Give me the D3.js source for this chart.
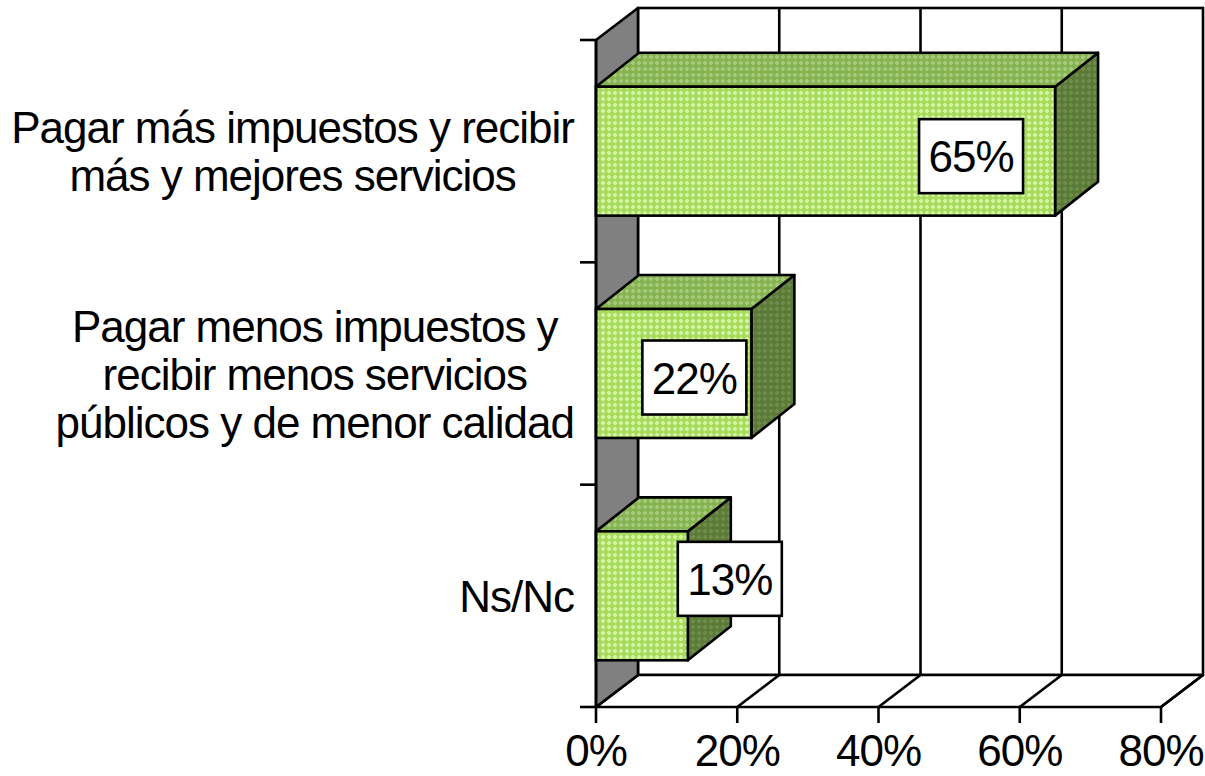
<!DOCTYPE html>
<html>
<head>
<meta charset="utf-8">
<script src="https://cdn.jsdelivr.net/npm/d3@7"></script>
<style>
  html, body { margin: 0; padding: 0; background: #fff; }
  svg { display: block; font-family: "Liberation Sans", Arial, sans-serif; }
</style>
</head>
<body>
<div id="chart"></div>
<script>
(function () {
    'use strict';

    // data
    var categories = [
        ["Pagar más impuestos y recibir", "más y mejores servicios"],
        ["Pagar menos impuestos y", "recibir menos servicios", "públicos y de menor calidad"],
        ["Ns/Nc"]
    ];
    var values = [65, 22, 13];
    var valueLabels = ["65%", "22%", "13%"];
    var ticks = [0, 20, 40, 60, 80];
    var tickLabels = ["0%", "20%", "40%", "60%", "80%"];

    // layout
    var width = 1205, height = 776;
    var top = 40, bottom = 707;
    var depthX = 42, depthY = -32;      // wall depth
    var barDX = 43, barDY = -34;        // bar depth
    var fontSize = 44, tracking = -1;
    var lineGap = 48;
    // where the value boxes sit, relative to bar end / band centre
    var boxShift = [[-84, 5], [-57, 4], [42, -17]];
    var boxW = 104, boxH = 74;

    var x = d3.scaleLinear().domain([0, 80]).range([596, 1161]);
    var xBack = d3.scaleLinear().domain([0, 80]).range([596 + depthX, 1161 + depthX]);
    var y = d3.scaleBand()
        .domain(d3.range(categories.length))
        .range([top, bottom])
        .paddingInner(0.42)
        .paddingOuter(0.21);
    var step = y.step();

    var svg = d3.select("#chart").append("svg")
        .attr("width", width)
        .attr("height", height);

    // fill patterns for the bar faces
    var defs = svg.append("defs");
    var makePattern = function (id, base, dot) {
        var p = defs.append("pattern")
            .attr("id", id)
            .attr("patternUnits", "userSpaceOnUse")
            .attr("width", 6)
            .attr("height", 6);
        p.append("rect").attr("width", 6).attr("height", 6).attr("fill", base);
        p.append("rect").attr("x", 2).attr("y", 1).attr("width", 2).attr("height", 4).attr("fill", dot);
        p.append("rect").attr("x", 1).attr("y", 2).attr("width", 4).attr("height", 2).attr("fill", dot);
    };
    makePattern("pat-front", "#a9dc5e", "#d3f6a3");
    makePattern("pat-top", "#86b450", "#a6c97e");
    makePattern("pat-side", "#5b7b37", "#6f8c4e");

    var pts = function (a) { return a.map(function (p) { return p.join(","); }).join(" "); };
    var stroke = "#000", sw = 2.6;

    // back wall
    svg.append("rect")
        .attr("x", xBack(0)).attr("y", top + depthY)
        .attr("width", xBack(80) - xBack(0))
        .attr("height", bottom - top)
        .attr("fill", "#fff")
        .attr("stroke", stroke).attr("stroke-width", sw);

    // vertical gridlines on back wall
    svg.selectAll(".grid")
        .data(ticks.slice(1, -1))
        .enter().append("line")
        .attr("class", "grid")
        .attr("x1", function (d) { return xBack(d); })
        .attr("x2", function (d) { return xBack(d); })
        .attr("y1", top + depthY)
        .attr("y2", bottom + depthY)
        .attr("stroke", stroke).attr("stroke-width", sw);

    // floor
    svg.append("polygon")
        .attr("points", pts([[x(0), bottom], [xBack(0), bottom + depthY],
            [xBack(80), bottom + depthY], [x(80), bottom]]))
        .attr("fill", "#fff")
        .attr("stroke", stroke).attr("stroke-width", sw)
        .attr("stroke-linejoin", "round");
    svg.selectAll(".floorline")
        .data(ticks)
        .enter().append("line")
        .attr("class", "floorline")
        .attr("x1", function (d) { return x(d); })
        .attr("y1", bottom)
        .attr("x2", function (d) { return xBack(d); })
        .attr("y2", bottom + depthY)
        .attr("stroke", stroke).attr("stroke-width", sw);

    // left side wall
    svg.append("polygon")
        .attr("points", pts([[x(0), top], [xBack(0), top + depthY],
            [xBack(0), bottom + depthY], [x(0), bottom]]))
        .attr("fill", "#808080")
        .attr("stroke", stroke).attr("stroke-width", sw)
        .attr("stroke-linejoin", "round");

    // x axis ticks and labels
    svg.selectAll(".xtick")
        .data(ticks)
        .enter().append("line")
        .attr("class", "xtick")
        .attr("x1", function (d) { return x(d); })
        .attr("x2", function (d) { return x(d); })
        .attr("y1", bottom)
        .attr("y2", bottom + 16)
        .attr("stroke", stroke).attr("stroke-width", sw);
    svg.selectAll(".xlabel")
        .data(ticks)
        .enter().append("text")
        .attr("class", "xlabel")
        .attr("x", function (d) { return x(d); })
        .attr("y", 766)
        .attr("text-anchor", "middle")
        .attr("font-size", fontSize)
        .attr("letter-spacing", tracking)
        .text(function (d, i) { return tickLabels[i]; });

    // y axis ticks (category dividers)
    svg.selectAll(".ytick")
        .data(d3.range(categories.length + 1))
        .enter().append("line")
        .attr("class", "ytick")
        .attr("x1", x(0) - 16)
        .attr("x2", x(0))
        .attr("y1", function (i) { return top + i * step; })
        .attr("y2", function (i) { return top + i * step; })
        .attr("stroke", stroke).attr("stroke-width", sw);

    // bars
    var bars = svg.selectAll(".bar")
        .data(values)
        .enter().append("g")
        .attr("class", "bar");
    bars.each(function (v, i) {
        var g = d3.select(this);
        var x0 = x(0), x1 = x(v);
        var y0 = y(i), y1 = y(i) + y.bandwidth();
        g.append("polygon")
            .attr("points", pts([[x1, y0], [x1 + barDX, y0 + barDY], [x1 + barDX, y1 + barDY], [x1, y1]]))
            .attr("fill", "url(#pat-side)")
            .attr("stroke", stroke).attr("stroke-width", sw).attr("stroke-linejoin", "round");
        g.append("polygon")
            .attr("points", pts([[x0, y0], [x0 + barDX, y0 + barDY], [x1 + barDX, y0 + barDY], [x1, y0]]))
            .attr("fill", "url(#pat-top)")
            .attr("stroke", stroke).attr("stroke-width", sw).attr("stroke-linejoin", "round");
        g.append("rect")
            .attr("x", x0).attr("y", y0)
            .attr("width", x1 - x0).attr("height", y1 - y0)
            .attr("fill", "url(#pat-front)")
            .attr("stroke", stroke).attr("stroke-width", sw);
    });

    // front edge of the value axis, drawn over bars
    svg.append("line")
        .attr("x1", x(0)).attr("x2", x(0))
        .attr("y1", top).attr("y2", bottom)
        .attr("stroke", stroke).attr("stroke-width", sw);

    // value boxes
    bars.each(function (v, i) {
        var g = d3.select(this);
        var cx = x(v) + boxShift[i][0];
        var cy = y(i) + y.bandwidth() / 2 + boxShift[i][1];
        g.append("rect")
            .attr("x", cx - boxW / 2).attr("y", cy - boxH / 2)
            .attr("width", boxW).attr("height", boxH)
            .attr("fill", "#fff")
            .attr("stroke", stroke).attr("stroke-width", sw);
        g.append("text")
            .attr("x", cx)
            .attr("y", cy + 16)
            .attr("text-anchor", "middle")
            .attr("font-size", fontSize)
            .attr("letter-spacing", tracking)
            .text(valueLabels[i]);
    });

    // category labels: lines centred in a block whose right edge sits at 574
    categories.forEach(function (lines, i) {
        var cy = y(i) + y.bandwidth() / 2;
        var g = svg.append("g").attr("class", "cat");
        var texts = lines.map(function (line, j) {
            return g.append("text")
                .attr("y", cy + (j - (lines.length - 1) / 2) * lineGap + 16)
                .attr("font-size", fontSize)
                .attr("letter-spacing", tracking)
                .attr("text-anchor", "middle")
                .text(line);
        });
        var w = d3.max(texts, function (t) { return t.node().getComputedTextLength(); });
        texts.forEach(function (t) { t.attr("x", 574 - w / 2); });
    });
}());
</script>
</body>
</html>
